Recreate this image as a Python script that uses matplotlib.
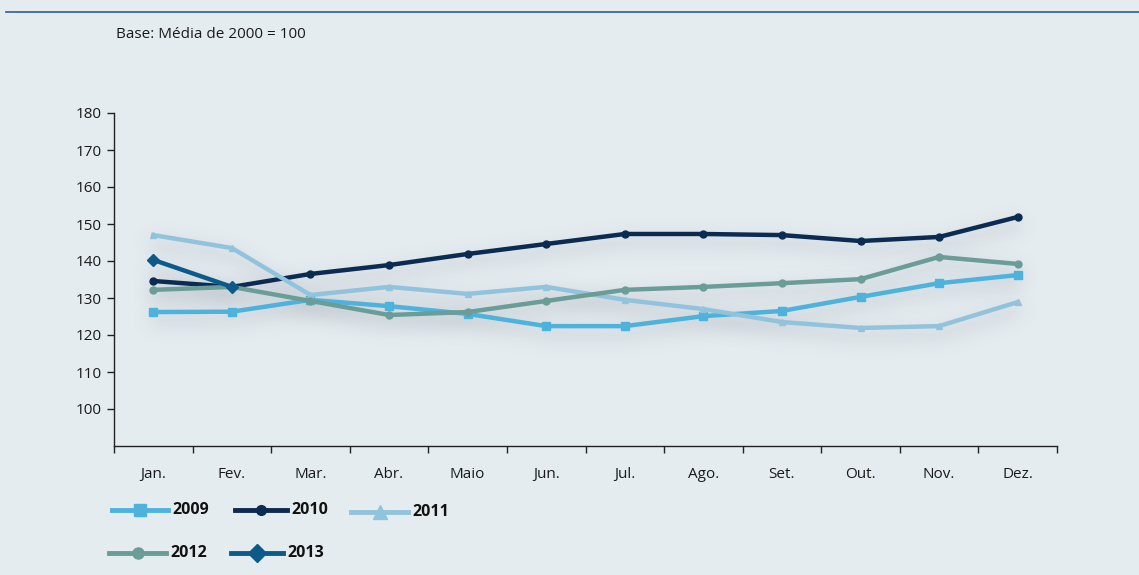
import numpy as np
import matplotlib
matplotlib.use("Agg")
import matplotlib.pyplot as plt
from matplotlib.lines import Line2D

months = ["Jan.", "Fev.", "Mar.", "Abr.", "Maio", "Jun.", "Jul.", "Ago.", "Set.", "Out.", "Nov.", "Dez."]
s2009 = [126.2, 126.3, 129.5, 127.8, 125.7, 122.4, 122.4, 125.1, 126.5, 130.3, 134.0, 136.2]
s2010 = [134.6, 133.0, 136.5, 138.9, 141.9, 144.6, 147.3, 147.3, 147.0, 145.4, 146.5, 151.9]
s2011 = [147.0, 143.5, 130.8, 133.0, 131.1, 133.0, 129.5, 127.0, 123.5, 121.9, 122.4, 128.9]
s2012 = [132.2, 133.0, 129.2, 125.4, 126.2, 129.2, 132.2, 133.0, 134.0, 135.1, 141.1, 139.2]
s2013 = [140.3, 133.0]
yticks = [100, 110, 120, 130, 140, 150, 160, 170, 180]

BG = "#e5ecf0"
C2009 = "#4db2dc"
C2010 = "#0b2b52"
C2011 = "#92c3dd"
C2012 = "#6b9d98"
C2013 = "#0c5a8a"

plt.rcParams['font.family'] = ['Open Sans', 'DejaVu Sans']


def _blur1d(a, sigma, axis):
    r = int(3 * sigma)
    x = np.arange(-r, r + 1)
    w = np.exp(-0.5 * (x / sigma) ** 2)
    w /= w.sum()
    out = np.zeros_like(a)
    n = a.shape[axis]
    pad = [(0, 0)] * a.ndim
    pad[axis] = (r, r)
    p = np.pad(a, pad, mode="constant")
    for i, wi in enumerate(w):
        sl = [slice(None)] * a.ndim
        sl[axis] = slice(i, i + n)
        out += wi * p[tuple(sl)]
    return out


class BlurShadow:
    def __init__(self, sigma=7, dy=7, alpha=0.45, color=(0.55, 0.58, 0.62)):
        self.sigma = sigma
        self.dy = dy
        self.alpha = alpha
        self.color = color

    def __call__(self, im, dpi):
        pad = int(self.sigma * 3) + abs(self.dy) + 2
        p = np.pad(im, [(pad, pad), (pad, pad), (0, 0)], "constant")
        a = p[..., 3]
        a = _blur1d(a, self.sigma, 0)
        a = _blur1d(a, self.sigma, 1)
        a = np.roll(a, self.dy, axis=0)
        out = np.zeros_like(p)
        out[..., 0] = self.color[0]
        out[..., 1] = self.color[1]
        out[..., 2] = self.color[2]
        out[..., 3] = np.clip(a * self.alpha, 0, 1)
        return out, -pad, -pad


fig = plt.figure(figsize=(11.39, 5.75), dpi=100, facecolor=BG)
ax = fig.add_axes([114 / 1139, 1 - 446 / 575, (1057 - 114) / 1139, (446 - 113) / 575])
ax.set_facecolor(BG)

x = np.arange(len(months))
series = [
    (s2009, C2009, "s", 5.5, "2009"),
    (s2010, C2010, "o", 5.0, "2010"),
    (s2011, C2011, "^", 4.5, "2011"),
    (s2012, C2012, "o", 5.0, "2012"),
    (s2013, C2013, "D", 6.0, "2013"),
]

# soft shadow
for vals, col, mk, ms, lab in series:
    sh, = ax.plot(x[:len(vals)], vals, color="k", lw=7, zorder=1, solid_capstyle="round")
    sh.set_agg_filter(BlurShadow(sigma=9, dy=8, alpha=0.28))
    sh.set_rasterized(True)

for vals, col, mk, ms, lab in series:
    ax.plot(x[:len(vals)], vals, color=col, lw=3.2, marker=mk, ms=ms,
            markeredgecolor=col, zorder=3)

ax.set_xlim(-0.5, 11.5)
ax.set_ylim(90, 180)
ax.set_yticks(yticks)
ax.set_yticklabels([str(v) for v in yticks], fontsize=11, color="#1a1a1a")
ax.set_xticks(np.arange(-0.5, 12, 1.0))
ax.set_xticklabels([])
ax.set_xticks(x, minor=True)
ax.set_xticklabels(months, minor=True, fontsize=11, color="#1a1a1a")
ax.tick_params(axis="x", which="minor", length=0, pad=15)
ax.tick_params(axis="x", which="major", length=5, width=1, direction="out", color="#222222")
ax.tick_params(axis="y", length=5, width=1, direction="out", color="#222222", pad=4)
for sp in ["top", "right"]:
    ax.spines[sp].set_visible(False)
for sp in ["left", "bottom"]:
    ax.spines[sp].set_color("#222222")
    ax.spines[sp].set_linewidth(1.0)

# top rule
fig.add_artist(Line2D([6 / 1139, 1.0], [1 - 12 / 575, 1 - 12 / 575], color="#2f5f92", lw=1.2,
                      transform=fig.transFigure))

fig.text(116 / 1139, 1 - 34 / 575, "Base: Média de 2000 = 100", fontsize=11,
         va="center", ha="left", color="#1a1a1a")

# legend
leg_items = [
    (112, 168, 510, C2009, "s", 8, "2009"),
    (235, 287, 510, C2010, "o", 7, "2010"),
    (351, 408, 512, C2011, "^", 10, "2011"),
    (109, 166, 553, C2012, "o", 8, "2012"),
    (231, 283, 553, C2013, "D", 9, "2013"),
]
for x0, x1, yy, col, mk, ms, lab in leg_items:
    yf = 1 - yy / 575
    fig.add_artist(Line2D([x0 / 1139, x1 / 1139], [yf, yf], color=col, lw=3.5,
                          transform=fig.transFigure))
    fig.add_artist(Line2D([(x0 + x1) / 2 / 1139], [yf], color=col, marker=mk, ms=ms,
                          markeredgecolor=col, lw=0, transform=fig.transFigure))
    fig.text((x1 + 4) / 1139, yf, lab, fontsize=11.5, fontweight="bold", va="center",
             ha="left", color="#111111")

fig.savefig("out.png", dpi=100, facecolor=BG)
